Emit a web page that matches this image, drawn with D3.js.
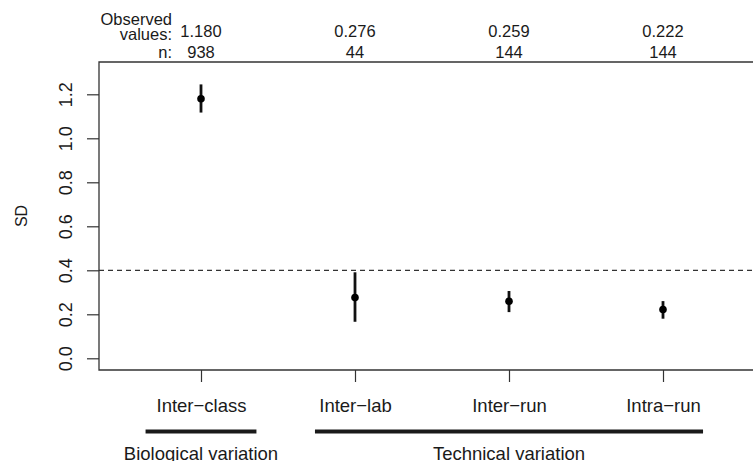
<!DOCTYPE html>
<html>
<head>
<meta charset="utf-8">
<script src="https://cdn.jsdelivr.net/npm/d3@7"></script>
<style>
  html, body { margin: 0; padding: 0; background: #fff; }
  svg { display: block; font-family: "Liberation Sans", Arial, Helvetica, sans-serif; }
</style>
</head>
<body>
<svg id="chart" width="753" height="461"></svg>
<script>
// ---- data ----
const categories = ["Inter\u2212class", "Inter\u2212lab", "Inter\u2212run", "Intra\u2212run"];
const sdValues   = [1.180, 0.276, 0.259, 0.222];
const ciLower    = [1.117, 0.166, 0.210, 0.180];
const ciUpper    = [1.245, 0.391, 0.306, 0.260];
const observedLabels = ["1.180", "0.276", "0.259", "0.222"];
const nLabels    = ["938", "44", "144", "144"];
const yTicks     = [0, 0.2, 0.4, 0.6, 0.8, 1.0, 1.2];
const yTickLabels = ["0.0", "0.2", "0.4", "0.6", "0.8", "1.0", "1.2"];
const threshold  = 0.4;
const groupNames = ["Biological variation", "Technical variation"];
const groupStart = [0.64, 1.74];
const groupEnd   = [1.36, 4.26];
const groupCenter = [1, 3];

// ---- layout ----
const W = 753, H = 461;
const plotLeft = 99, plotTop = 62, plotBottom = 370, plotRight = 760;
const svg = d3.select("#chart");
const textColor = "#1a1a1a";
const lineColor = "#333";

const x = d3.scaleLinear().domain([1, 4]).range([201, 663]);
const y = d3.scaleLinear().domain([0, 1.2]).range([358.3, 94.3]);

// box lines: left, top, bottom (right is beyond the frame)
svg.append("path")
  .attr("d", `M${plotRight},${plotTop}H${plotLeft}V${plotBottom}H${plotRight}`)
  .attr("fill", "none").attr("stroke", lineColor).attr("stroke-width", 1.3);

// y axis
const yAxis = svg.append("g").attr("transform", `translate(${plotLeft},0)`)
  .call(d3.axisLeft(y).tickValues(yTicks).tickSize(12).tickFormat((d, i) => yTickLabels[i]));
yAxis.select(".domain").remove();
yAxis.selectAll(".tick line").attr("stroke", lineColor).attr("stroke-width", 1.2);
yAxis.selectAll(".tick text")
  .attr("x", null).attr("dy", null)
  .attr("transform", "translate(-27,0) rotate(-90)")
  .attr("text-anchor", "middle")
  .attr("font-size", 18).attr("fill", textColor)
  .attr("font-family", "Liberation Sans, Arial, sans-serif");

// y label
svg.append("text")
  .attr("transform", `translate(27,${(plotTop + plotBottom) / 2}) rotate(-90)`)
  .attr("text-anchor", "middle").attr("font-size", 16).attr("fill", textColor)
  .text("SD");

// x axis
const xAxis = svg.append("g").attr("transform", `translate(0,${plotBottom})`)
  .call(d3.axisBottom(x).tickValues([1, 2, 3, 4]).tickSize(12).tickFormat((d, i) => categories[i]));
xAxis.select(".domain").remove();
xAxis.selectAll(".tick line").attr("stroke", lineColor).attr("stroke-width", 1.2);
xAxis.selectAll(".tick text")
  .attr("y", 42).attr("dy", null)
  .attr("font-size", 18.5).attr("fill", textColor)
  .attr("font-family", "Liberation Sans, Arial, sans-serif");

// threshold dashed line
svg.append("line")
  .attr("x1", plotLeft).attr("x2", plotRight)
  .attr("y1", y(threshold)).attr("y2", y(threshold))
  .attr("stroke", "#333").attr("stroke-width", 1.2)
  .attr("stroke-dasharray", "5,4");

// error bars + points
const idx = d3.range(categories.length);
svg.append("g").selectAll("line").data(idx).join("line")
  .attr("x1", i => x(i + 1)).attr("x2", i => x(i + 1))
  .attr("y1", i => y(ciLower[i])).attr("y2", i => y(ciUpper[i]))
  .attr("stroke", "#111").attr("stroke-width", 2.8);
svg.append("g").selectAll("circle").data(idx).join("circle")
  .attr("cx", i => x(i + 1)).attr("cy", i => y(sdValues[i]))
  .attr("r", 3.8).attr("fill", "#000");

// top annotations
const topG = svg.append("g").attr("font-size", 16.5).attr("fill", textColor);
topG.append("text").attr("x", 172).attr("y", 24.5).attr("text-anchor", "end").text("Observed");
topG.append("text").attr("x", 172).attr("y", 39.5).attr("text-anchor", "end").text("values:");
topG.append("text").attr("x", 172).attr("y", 58).attr("text-anchor", "end").text("n:");
topG.selectAll("text.obs").data(idx).join("text").attr("class", "obs")
  .attr("x", i => x(i + 1)).attr("y", 37).attr("text-anchor", "middle")
  .text(i => observedLabels[i]);
topG.selectAll("text.nn").data(idx).join("text").attr("class", "nn")
  .attr("x", i => x(i + 1)).attr("y", 58).attr("text-anchor", "middle")
  .text(i => nLabels[i]);

// group brackets
const grp = svg.append("g");
grp.selectAll("line").data(groupNames).join("line")
  .attr("x1", (d, i) => x(groupStart[i])).attr("x2", (d, i) => x(groupEnd[i]))
  .attr("y1", 431.5).attr("y2", 431.5)
  .attr("stroke", "#1a1a1a").attr("stroke-width", 4);
grp.selectAll("text").data(groupNames).join("text")
  .attr("x", (d, i) => x(groupCenter[i])).attr("y", 460)
  .attr("text-anchor", "middle").attr("font-size", 18.5).attr("fill", textColor)
  .text(d => d);
</script>
</body>
</html>
